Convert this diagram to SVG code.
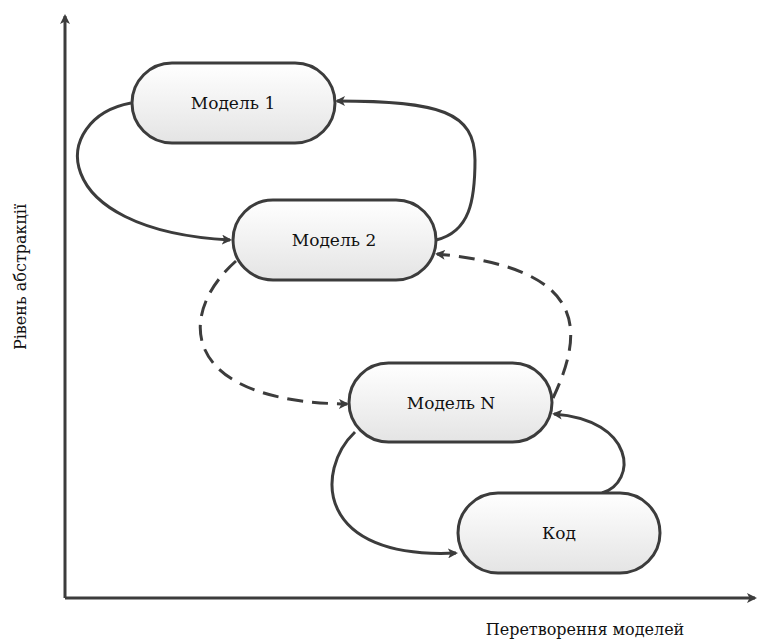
<svg xmlns="http://www.w3.org/2000/svg" width="760" height="641" viewBox="0 0 760 641">
<style>
.node rect{fill:url(#g);stroke:#3c3c3c;stroke-width:3}
.node text{font-family:'DejaVu Serif',serif;font-size:17px;fill:#111;text-anchor:middle}
.c{fill:none;stroke:#3c3c3c;stroke-width:3;marker-end:url(#a)}
.d{stroke-dasharray:16 9}
.ax{fill:none;stroke:#3c3c3c;stroke-width:3;marker-end:url(#a)}
.lbl{font-family:'DejaVu Serif',serif;font-size:16px;fill:#111;text-anchor:middle}
</style>
<defs>
<linearGradient id="g" x1="0" y1="0" x2="0" y2="1">
<stop offset="0" stop-color="#ffffff"/>
<stop offset="1" stop-color="#e4e4e4"/>
</linearGradient>
<marker id="a" markerWidth="10" markerHeight="10" refX="8" refY="5" orient="auto" markerUnits="userSpaceOnUse" viewBox="0 0 10 10">
<path d="M0,0 L10,5 L0,10 L2.5,5 Z" fill="#3c3c3c"/>
</marker>
</defs>
<g id="axes">
<path class="ax" d="M65,598 L65,16"/>
<path class="ax" d="M65,598 L755,598"/>
<text class="lbl" x="585" y="635">Перетворення моделей</text>
<text class="lbl" transform="translate(26,277) rotate(-90)">Рівень абстракції</text>
</g>
<g id="connectors">
<path class="c" d="M131,103 C50,118 45,230 230,240"/>
<path class="c" d="M436,240 C470,232 475,200 475,160 C475,112 440,101 337,101"/>
<path class="c d" d="M553,398 C585,330 588,268 437,254"/>
<path class="c d" d="M236,261 C175,315 180,402 347,404"/>
<path class="c" d="M355,432 C315,470 315,560 456,553"/>
<path class="c" d="M602,493 C638,482 635,420 554,414"/>
</g>
<g id="model1" class="node"><rect x="132" y="63" width="203" height="80" rx="40"/><text x="233" y="109">Модель 1</text></g>
<g id="model2" class="node"><rect x="233" y="200" width="203" height="80" rx="40"/><text x="334" y="246">Модель 2</text></g>
<g id="modelN" class="node"><rect x="349" y="363" width="203" height="79" rx="39.5"/><text x="451" y="409">Модель N</text></g>
<g id="code" class="node"><rect x="458" y="493" width="202" height="80" rx="40"/><text x="559" y="539">Код</text></g>
</svg>
